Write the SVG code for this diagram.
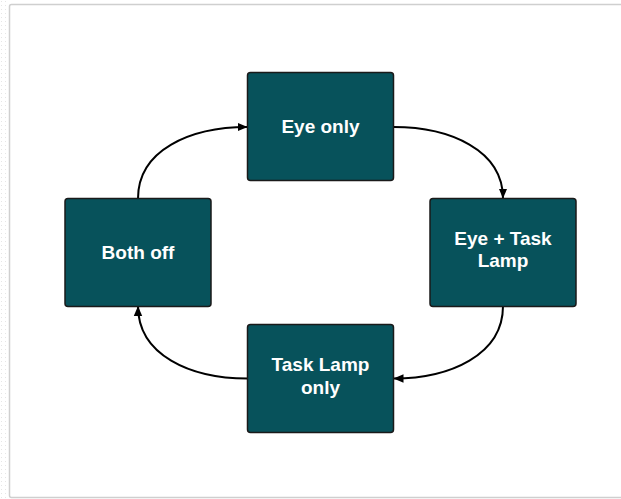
<svg xmlns="http://www.w3.org/2000/svg" width="621" height="499" viewBox="0 0 621 499">
<defs>
<style>
.node rect{fill:#07525b;stroke:#1a1a1a;stroke-width:1.5}
.node text{fill:#ffffff;font-family:"Liberation Sans",Arial,sans-serif;font-weight:bold;font-size:19px;text-anchor:middle}
.conn path{fill:none;stroke:#000;stroke-width:2}
</style>
<marker id="arr" viewBox="0 0 10 10" refX="10" refY="5" markerWidth="10" markerHeight="10" markerUnits="userSpaceOnUse" orient="auto">
<path d="M0,0.8 L10,5 L0,9.2 Z" fill="#000"/>
</marker>
<pattern id="dots" width="4" height="4" patternUnits="userSpaceOnUse">
<rect x="1" y="1" width="1" height="1" fill="#e6e6e6"/>
</pattern>
</defs>
<rect x="0" y="0" width="621" height="499" fill="#ffffff"/>
<rect x="0" y="0" width="8" height="499" fill="url(#dots)"/>
<rect x="9.5" y="4.5" width="620" height="493" fill="#ffffff" stroke="#cfcfcf" stroke-width="1.5" rx="2"/>
<g id="connectors" class="conn">
<path d="M138,198.5 C138,150 190,127 247.5,127" marker-end="url(#arr)"/>
<path d="M393.5,127 C450,127 503,150 503,198.5" marker-end="url(#arr)"/>
<path d="M503,306 C503,355 450,378.5 393.5,378.5" marker-end="url(#arr)"/>
<path d="M247.5,378.5 C190,378.5 138,355 138,306" marker-end="url(#arr)"/>
</g>
<g id="node-eye-only" class="node">
<rect x="247.5" y="72.5" width="146" height="108" rx="3"/>
<text x="320.5" y="133">Eye only</text>
</g>
<g id="node-eye-task-lamp" class="node">
<rect x="430" y="198.5" width="146" height="108" rx="3"/>
<text x="503" y="244.5">Eye + Task</text>
<text x="503" y="267">Lamp</text>
</g>
<g id="node-task-lamp-only" class="node">
<rect x="247.5" y="324.5" width="146" height="108" rx="3"/>
<text x="320.5" y="371">Task Lamp</text>
<text x="320.5" y="394">only</text>
</g>
<g id="node-both-off" class="node">
<rect x="65" y="198.5" width="146" height="108" rx="3"/>
<text x="138" y="258.5">Both off</text>
</g>
</svg>
